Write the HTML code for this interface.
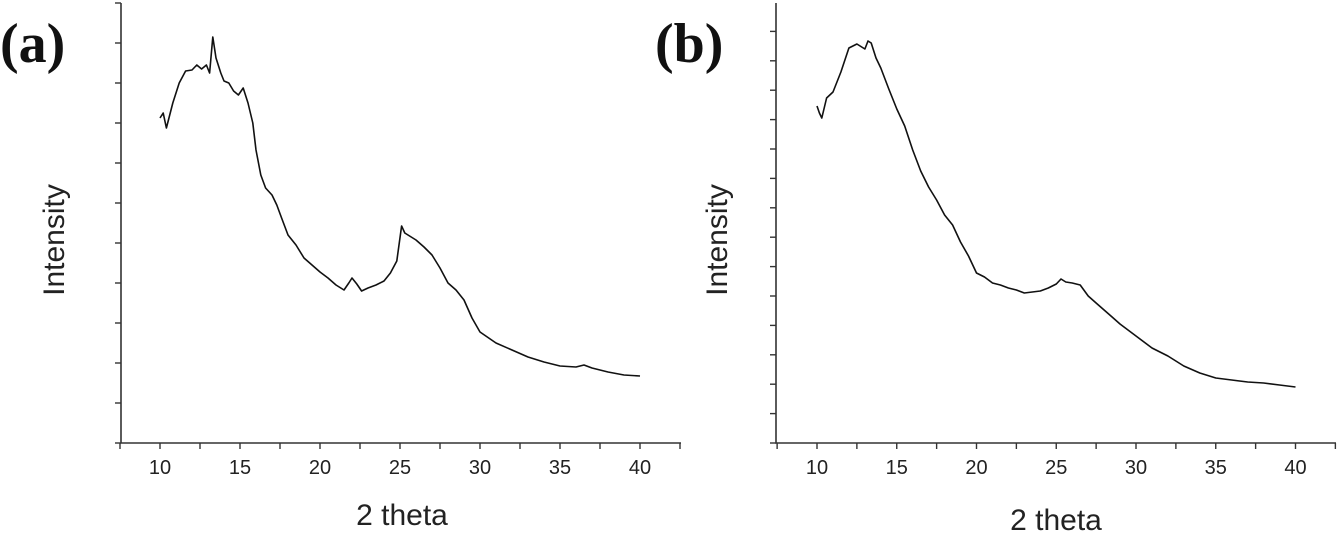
<!DOCTYPE html>
<html><head><meta charset="utf-8"><style>
body{margin:0;background:#fff;}
svg{display:block;}
text{font-family:"Liberation Sans",Arial,sans-serif;fill:#222;}
</style></head><body>
<svg id="chart" width="1339" height="534" viewBox="0 0 1339 534" xmlns="http://www.w3.org/2000/svg">
<text x="0" y="62" style="font-family:'Liberation Serif',serif;font-weight:bold;font-size:56px;fill:#111">(a)</text>
<text x="655" y="62" style="font-family:'Liberation Serif',serif;font-weight:bold;font-size:56px;fill:#111">(b)</text>
</svg>
<script>
const xTicks=[10,15,20,25,30,35,40];
const aTheta=[10,10.2,10.4,10.8,11.2,11.6,12,12.3,12.6,12.9,13.1,13.3,13.5,13.8,14,14.3,14.6,14.9,15.2,15.5,15.8,16,16.3,16.6,17,17.3,17.6,18,18.5,19,19.5,20,20.5,21,21.5,21.8,22,22.3,22.6,23,23.5,24,24.4,24.8,25.1,25.3,25.6,26,26.5,27,27.5,28,28.5,29,29.5,30,31,32,33,34,35,36,36.5,37,38,39,40];
const aInt=[325,330,315,340,360,372,373,378,374,378,370,406,385,370,362,360,352,348,355,340,320,293,268,255,248,238,225,208,198,185,178,171,165,158,153,160,165,159,152,155,158,162,170,182,217,210,207,203,196,188,175,160,153,143,125,111,100,93,86,81,77,76,78,75,71,68,67];
const bTheta=[10,10.15,10.3,10.6,11,11.5,12,12.5,13,13.2,13.4,13.7,14,14.5,15,15.5,16,16.5,17,17.5,18,18.5,19,19.5,20,20.5,21,21.5,22,22.5,23,23.5,24,24.5,25,25.3,25.6,26,26.5,27,27.5,28,28.5,29,29.5,30,31,32,33,34,35,36,37,38,39,40];
const bInt=[337,330,325,345,351,371,395,399,394,402,400,385,375,354,334,317,293,272,256,243,228,218,201,187,170,166,160,158,155,153,150,151,152,155,159,164,161,160,158,147,140,133,126,119,113,107,95,87,77,70,65,63,61,60,58,56];

const svg=document.getElementById('chart');
const NS='http://www.w3.org/2000/svg';
function mk(tag,attrs){const e=document.createElementNS(NS,tag);for(const k in attrs)e.setAttribute(k,attrs[k]);svg.appendChild(e);return e;}

function panel(p){
  const xS=v=>p.x10+(v-10)*p.ppu;
  const yS=v=>p.base-v;
  const ax=mk('path',{d:`M${p.ax} 3 V${p.base} H${p.right}`,stroke:'#333','stroke-width':1.6,fill:'none'});
  
  
  for(let y=p.base;y>=3;y-=p.ytick){
    const t=mk('line',{x1:p.ax-6,x2:p.ax,y1:y,y2:y,stroke:'#333','stroke-width':1.4});
    
    
  }
  for(let v=7.5;v<=42.6;v+=2.5){
    const t=mk('line',{x1:xS(v),x2:xS(v),y1:p.base,y2:p.base+6,stroke:'#333','stroke-width':1.4});
    
    
  }
  xTicks.forEach(v=>{
    const t=mk('text',{x:xS(v),y:p.base+31,'text-anchor':'middle','font-size':'20'});
    t.textContent=v;
    
    
  });
  const xt=mk('text',{x:p.xtx,y:p.xty,'text-anchor':'middle','font-size':'30'});
  xt.textContent='2 theta';
  
  
  const yt=mk('text',{x:0,y:0,'text-anchor':'middle','font-size':'30',transform:`translate(${p.ytx},${p.yty}) rotate(-90)`});
  yt.textContent='Intensity';
  
  
  const d=p.tx.map((t,i)=>(i?'L':'M')+xS(t).toFixed(1)+' '+yS(p.iv[i]).toFixed(1)).join(' ');
  const line=mk('path',{d:d,stroke:'#111','stroke-width':1.6,fill:'none','stroke-linejoin':'round'});
  
  
}
panel({id:'panel-a',ax:121,base:443,right:681,x10:160,ppu:16,ytick:40,tx:aTheta,iv:aInt,xtx:402,xty:525,ytx:64,yty:240});
panel({id:'panel-b',ax:776,base:443,right:1336,x10:817,ppu:15.95,ytick:29.4,tx:bTheta,iv:bInt,xtx:1056,xty:530,ytx:727,yty:240});
</script>
</body></html>
